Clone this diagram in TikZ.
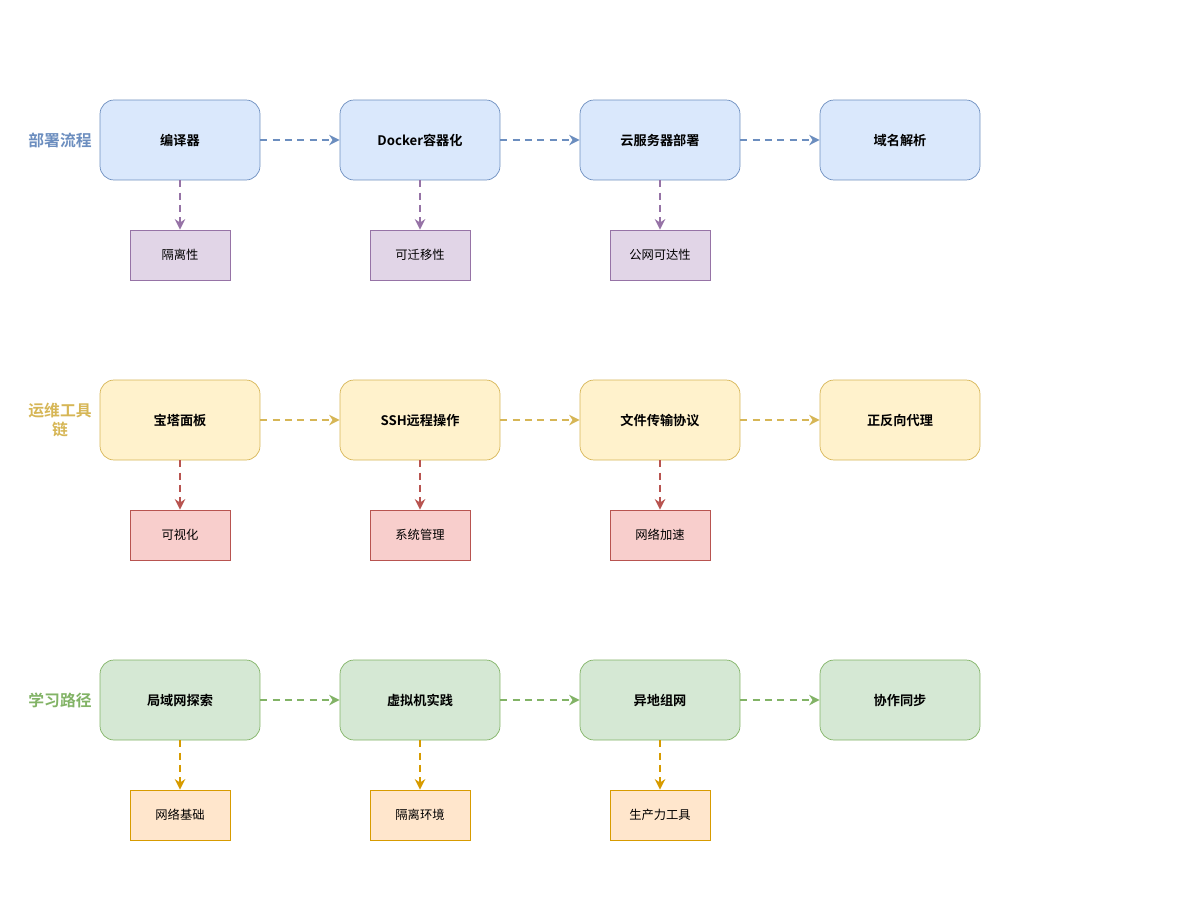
\documentclass[tikz,border=0pt]{standalone}
\usepackage{fontspec}
\setmainfont{Noto Sans CJK SC}[BoldFont={Noto Sans CJK SC Bold}]
\usetikzlibrary{arrows.meta}
\definecolor{bluefill}{HTML}{DAE8FC}\definecolor{bluedraw}{HTML}{6C8EBF}
\definecolor{purplefill}{HTML}{E1D5E7}\definecolor{purpledraw}{HTML}{9673A6}
\definecolor{yellowfill}{HTML}{FFF2CC}\definecolor{yellowdraw}{HTML}{D6B656}
\definecolor{redfill}{HTML}{F8CECC}\definecolor{reddraw}{HTML}{B85450}
\definecolor{greenfill}{HTML}{D5E8D4}\definecolor{greendraw}{HTML}{82B366}
\definecolor{orangefill}{HTML}{FFE6CC}\definecolor{orangedraw}{HTML}{D79B00}
\begin{document}
\begin{tikzpicture}[x=0.02cm,y=-0.02cm,
  stage/.style={draw, rounded corners=8pt, minimum width=3.2cm, minimum height=1.6cm, font=\fontsize{7.5}{9}\selectfont\bfseries},
  note/.style={draw, minimum width=2cm, minimum height=1cm, font=\fontsize{7}{9}\selectfont},
  flow/.style={line width=0.9pt, dash pattern=on 4pt off 3pt, -{Stealth[length=6pt,width=6pt]}},
  tag/.style={font=\fontsize{9}{10.5}\selectfont\bfseries, align=center, text width=1.4cm}]
  \useasboundingbox (0,0) rectangle (1200,900);

  % deployment
  \node[tag, text=bluedraw] (t1) at (60,140) {部署流程};
  \foreach \t [count=\i] in {编译器,Docker容器化,云服务器部署,域名解析}
    \node[stage, fill=bluefill, draw=bluedraw] (a\i) at (-60+\i*240,140) {\t};
  \foreach \t [count=\i] in {隔离性,可迁移性,公网可达性}
    \node[note, fill=purplefill, draw=purpledraw] (n\i) at (-60+\i*240,255) {\t};

  % operations
  \node[tag, text=yellowdraw] (t2) at (60,420) {运维工具\\链};
  \foreach \t [count=\i] in {宝塔面板,SSH远程操作,文件传输协议,正反向代理}
    \node[stage, fill=yellowfill, draw=yellowdraw] (b\i) at (-60+\i*240,420) {\t};
  \foreach \t [count=\i] in {可视化,系统管理,网络加速}
    \node[note, fill=redfill, draw=reddraw] (m\i) at (-60+\i*240,535) {\t};

  % learning
  \node[tag, text=greendraw] (t3) at (60,700) {学习路径};
  \foreach \t [count=\i] in {局域网探索,虚拟机实践,异地组网,协作同步}
    \node[stage, fill=greenfill, draw=greendraw] (c\i) at (-60+\i*240,700) {\t};
  \foreach \t [count=\i] in {网络基础,隔离环境,生产力工具}
    \node[note, fill=orangefill, draw=orangedraw] (k\i) at (-60+\i*240,815) {\t};

  \foreach \i/\j in {1/2,2/3,3/4} {
    \draw[flow, bluedraw] (a\i) -- (a\j);
    \draw[flow, yellowdraw] (b\i) -- (b\j);
    \draw[flow, greendraw] (c\i) -- (c\j);
  }
  \foreach \i in {1,2,3} {
    \draw[flow, purpledraw] (a\i) -- (n\i);
    \draw[flow, reddraw] (b\i) -- (m\i);
    \draw[flow, orangedraw] (c\i) -- (k\i);
  }
\end{tikzpicture}
\end{document}
